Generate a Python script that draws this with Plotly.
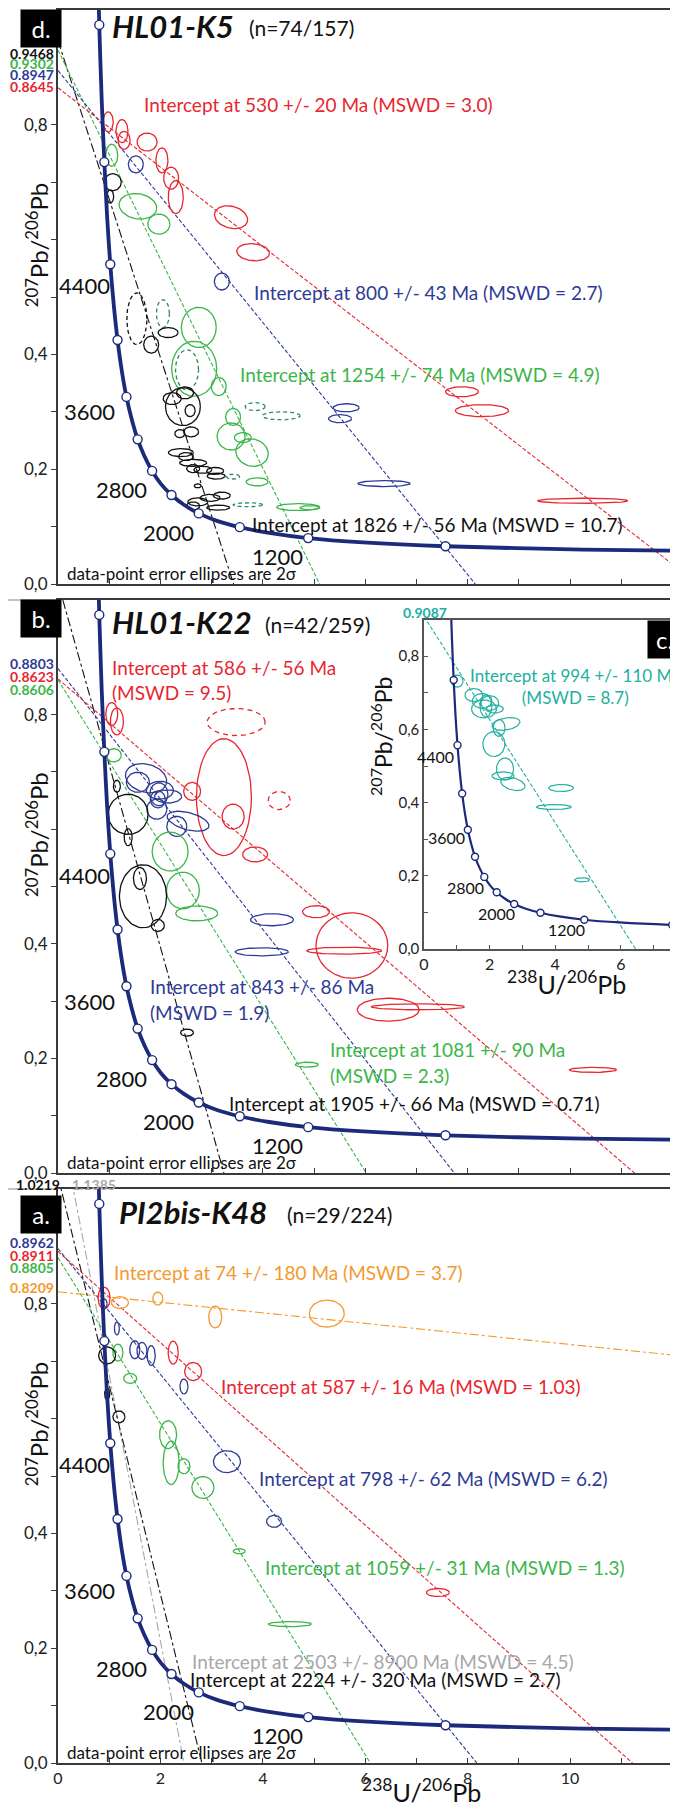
import numpy as np
import plotly.graph_objects as go

W, H = 678, 1805
OFF = 8  # page body margin: the figure starts 8 px in from the window corner

# ===============================
# Concordia curve (Tera-Wasserburg)
# ===============================
conc_x = [0.763, 0.806, 0.853, 0.905, 0.960, 1.021, 1.089, 1.163, 1.245, 1.337, 1.440,
          1.556, 1.687, 1.838, 2.013, 2.217, 2.459, 2.749, 3.105, 3.550, 4.123, 4.887,
          5.959, 7.568, 10.25, 12.6]
conc_y = [1.123, 0.974, 0.845, 0.735, 0.639, 0.557, 0.486, 0.425, 0.372, 0.326, 0.287,
          0.252, 0.223, 0.197, 0.174, 0.155, 0.138, 0.123, 0.110, 0.099, 0.089, 0.080,
          0.0725, 0.0658, 0.0599, 0.0575]
# open circles every 400 Ma (5200 ... 800 Ma)
mark_x = [0.806, 0.905, 1.021, 1.163, 1.337, 1.556, 1.838, 2.217, 2.749, 3.550, 4.887, 7.568]
mark_y = [0.974, 0.735, 0.557, 0.425, 0.326, 0.252, 0.197, 0.155, 0.123, 0.099, 0.080, 0.0658]

age_labels = ["4400", "3600", "2800", "2000", "1200"]
age_lab_x = [0.51, 0.62, 1.24, 2.15, 4.28]
age_lab_y = [0.52, 0.30, 0.165, 0.09, 0.048]
inset_age_x = [0.34, 0.70, 1.28, 2.20, 4.33]
inset_age_y = [0.527, 0.306, 0.169, 0.096, 0.052]

# ===============================
# Discordia: y-intercept (207Pb/206Pb) and x where the line reaches y = 0
# ===============================
d_disc_keys = ["black", "green", "blue", "red"]
d_disc_y0 = [0.9468, 0.9302, 0.8947, 0.8645]
d_disc_x0 = [3.43, 5.11, 8.15, 12.5]

b_disc_keys = ["black", "blue", "red", "green"]
b_disc_y0 = [1.03, 0.8803, 0.8623, 0.8606]
b_disc_x0 = [3.24, 7.74, 11.26, 6.02]

a_disc_keys = ["gray", "black", "blue", "red", "green", "orange"]
a_disc_y0 = [1.1385, 1.0219, 0.8962, 0.8911, 0.8805, 0.8209]
a_disc_x0 = [2.46, 2.81, 8.18, 11.22, 6.10, 89.5]

c_disc_keys = ["teal"]
c_disc_y0 = [0.9087]
c_disc_x0 = [6.45]

# ===============================
# Error ellipses: (x, y, half-width x, half-height y, tilt deg)
# ===============================
d_red = [(0.98, 0.805, 0.098, 0.0175, 0), (1.25, 0.789, 0.117, 0.020, 0), (1.29, 0.773, 0.117, 0.0157, 0),
         (1.74, 0.770, 0.195, 0.0157, 0), (2.03, 0.738, 0.117, 0.0218, 0), (2.21, 0.707, 0.146, 0.0192, 0),
         (2.30, 0.674, 0.146, 0.0288, 0), (3.38, 0.639, 0.33, 0.019, -15), (3.81, 0.578, 0.32, 0.0148, -5),
         (7.89, 0.335, 0.32, 0.0087, 0), (8.28, 0.302, 0.52, 0.0105, 0), (10.25, 0.145, 0.88, 0.0044, 0)]
d_blue = [(1.52, 0.731, 0.146, 0.0148, 0), (3.20, 0.527, 0.146, 0.0148, 0), (5.63, 0.307, 0.254, 0.007, 0),
          (5.51, 0.288, 0.225, 0.007, 0), (6.37, 0.175, 0.51, 0.0052, 0)]
d_green = [(1.05, 0.747, 0.117, 0.0192, 0), (1.56, 0.658, 0.37, 0.0218, -10), (1.97, 0.627, 0.215, 0.0175, 0),
           (2.75, 0.447, 0.34, 0.035, 0), (2.66, 0.375, 0.44, 0.048, 0), (3.14, 0.344, 0.146, 0.0157, 0),
           (3.42, 0.291, 0.146, 0.0148, 0), (3.38, 0.257, 0.273, 0.0236, 0), (3.61, 0.255, 0.166, 0.0087, 0),
           (3.79, 0.229, 0.32, 0.0236, -15), (3.89, 0.178, 0.215, 0.007, 0), (4.69, 0.134, 0.42, 0.0061, 0),
           (4.92, 0.133, 0.195, 0.0035, 0)]
d_green_dash = [(2.05, 0.471, 0.127, 0.0244, 0), (2.52, 0.373, 0.225, 0.035, 0), (3.85, 0.309, 0.195, 0.007, 0),
                (4.36, 0.293, 0.37, 0.007, 0), (3.42, 0.187, 0.127, 0.0044, 0), (3.71, 0.138, 0.29, 0.0035, 0)]
d_black = [(1.07, 0.700, 0.166, 0.0148, 0), (1.02, 0.675, 0.068, 0.0113, 0), (1.82, 0.417, 0.146, 0.0148, 0),
           (2.15, 0.438, 0.195, 0.0087, 0), (2.23, 0.323, 0.176, 0.0105, 0), (2.44, 0.309, 0.34, 0.033, 0),
           (2.48, 0.333, 0.166, 0.0105, 0), (2.58, 0.302, 0.098, 0.0105, 0), (2.38, 0.262, 0.098, 0.007, 0),
           (2.60, 0.265, 0.146, 0.0087, 0), (2.40, 0.229, 0.244, 0.007, 0), (2.50, 0.222, 0.146, 0.007, 0),
           (2.64, 0.211, 0.264, 0.0061, 0), (2.64, 0.201, 0.127, 0.007, 0), (2.83, 0.199, 0.176, 0.0061, 0),
           (3.07, 0.197, 0.166, 0.0061, 0), (3.09, 0.188, 0.176, 0.0052, 0), (2.73, 0.171, 0.068, 0.0035, 0),
           (2.73, 0.143, 0.195, 0.007, 0), (2.97, 0.150, 0.195, 0.0061, 0), (3.20, 0.154, 0.166, 0.0061, 0),
           (2.64, 0.136, 0.127, 0.007, 0), (3.13, 0.133, 0.225, 0.0044, 0)]
d_black_dash = [(1.54, 0.462, 0.195, 0.045, 0)]

b_red = [(1.05, 0.801, 0.117, 0.020, 0), (1.15, 0.788, 0.127, 0.0236, 0), (3.24, 0.656, 0.537, 0.102, 0),
         (2.62, 0.666, 0.166, 0.0157, 0), (3.42, 0.622, 0.215, 0.0218, 0), (3.85, 0.556, 0.244, 0.013, 0),
         (5.04, 0.456, 0.264, 0.0105, 0), (5.74, 0.397, 0.70, 0.057, 0), (5.59, 0.388, 0.73, 0.0061, 0),
         (6.45, 0.285, 0.605, 0.020, 0), (7.03, 0.290, 0.91, 0.0052, 0), (10.45, 0.180, 0.46, 0.0044, 0)]
b_red_dash = [(3.48, 0.787, 0.566, 0.0236, 0), (4.32, 0.650, 0.215, 0.0157, 0)]
b_blue = [(1.72, 0.689, 0.41, 0.0245, -15), (1.56, 0.682, 0.225, 0.0175, 0), (1.99, 0.668, 0.264, 0.0157, 0),
          (1.97, 0.661, 0.176, 0.020, 0), (1.95, 0.652, 0.146, 0.0148, 0), (2.15, 0.657, 0.264, 0.0114, 0),
          (1.93, 0.635, 0.195, 0.0175, 0), (2.54, 0.614, 0.42, 0.0149, -15), (2.32, 0.605, 0.195, 0.0175, 0),
          (4.18, 0.442, 0.42, 0.0105, 0), (3.98, 0.386, 0.52, 0.007, 0)]
b_green = [(1.09, 0.729, 0.146, 0.0114, 0), (2.19, 0.561, 0.35, 0.034, 0), (2.44, 0.493, 0.32, 0.032, 0),
           (2.71, 0.453, 0.41, 0.013, 0), (4.86, 0.189, 0.225, 0.0044, 0)]
b_black = [(1.15, 0.675, 0.068, 0.0105, 0), (1.37, 0.626, 0.39, 0.035, 0), (1.37, 0.586, 0.078, 0.0149, 0),
           (1.66, 0.483, 0.46, 0.055, 0), (1.60, 0.514, 0.127, 0.0192, 0), (1.95, 0.432, 0.127, 0.0105, 0),
           (2.52, 0.245, 0.127, 0.0061, 0)]

c_teal = [(1.01, 0.732, 0.18, 0.0164, 0), (1.52, 0.694, 0.27, 0.0178, 0), (1.77, 0.678, 0.30, 0.020, 0),
          (1.89, 0.664, 0.18, 0.030, 0), (1.83, 0.656, 0.38, 0.0246, 0), (2.01, 0.672, 0.27, 0.020, 0),
          (2.16, 0.656, 0.26, 0.011, 0), (2.50, 0.615, 0.43, 0.0164, 10), (2.29, 0.604, 0.18, 0.023, 0),
          (2.13, 0.560, 0.335, 0.034, 0), (2.47, 0.492, 0.26, 0.030, 0), (2.41, 0.473, 0.335, 0.011, 0),
          (2.71, 0.451, 0.38, 0.0164, -15), (4.18, 0.440, 0.38, 0.0096, 0), (3.96, 0.388, 0.53, 0.0068, 0),
          (4.82, 0.189, 0.23, 0.0055, 0)]

a_orange = [(1.21, 0.802, 0.166, 0.0104, 0), (1.95, 0.809, 0.098, 0.0113, 0), (3.07, 0.777, 0.127, 0.019, 0),
            (5.25, 0.783, 0.34, 0.0235, 0)]
a_red = [(0.90, 0.810, 0.117, 0.019, 0), (2.25, 0.715, 0.098, 0.020, 0), (2.64, 0.682, 0.166, 0.0157, 0),
         (7.42, 0.297, 0.225, 0.007, 0)]
a_blue = [(0.90, 0.800, 0.059, 0.0087, 0), (1.15, 0.757, 0.049, 0.0113, 0), (1.50, 0.720, 0.098, 0.0157, 0),
          (1.64, 0.718, 0.098, 0.0148, 0), (1.82, 0.710, 0.078, 0.0174, 0), (2.46, 0.656, 0.078, 0.013, 0),
          (3.30, 0.525, 0.264, 0.019, 0), (4.22, 0.421, 0.146, 0.0104, 0)]
a_green = [(1.17, 0.715, 0.098, 0.0148, 0), (1.41, 0.670, 0.127, 0.0087, 0), (2.15, 0.572, 0.166, 0.0243, 0),
           (2.21, 0.523, 0.156, 0.038, 0), (2.46, 0.517, 0.117, 0.013, 0), (2.83, 0.480, 0.215, 0.019, 0),
           (3.54, 0.369, 0.117, 0.0044, 0), (4.53, 0.242, 0.42, 0.0044, 0)]
a_black = [(0.96, 0.710, 0.166, 0.0148, 0), (0.96, 0.643, 0.049, 0.0104, 0), (1.19, 0.603, 0.117, 0.0104, 0)]

# ===============================
# Styles
# ===============================
COL = {"red": "#e8262f", "blue": "#2e3b96", "green": "#3cb54a", "black": "#111111",
       "orange": "#f39a2e", "gray": "#a8a8a8", "teal": "#22b0a0", "dkgreen": "#2f8a5c"}
DASH = {"red": "4px,2px", "blue": "4px,2px", "green": "4px,2px", "black": "dashdot",
        "orange": "dashdot", "gray": "dashdot", "teal": "4px,2px"}
NAVY = "#1b2a7b"
FONT = "Lato"
AX = "#3a3a3a"
FW, FH = W - OFF, H - OFF


def px2paper_x(px):
    return (px - OFF) / FW


def px2paper_y(py):
    return 1 - (py - OFF) / FH


# panel geometry (pixels in the window)
LEFT = 58
XMAX = (W - LEFT) / 51.2
panels = {  # name: (top px, bottom px)
    "d": (10, 584),
    "b": (600, 1173),
    "a": (1189, 1763),
}
axis_ids = {"d": ("x", "y"), "b": ("x2", "y2"), "a": ("x3", "y3"), "c": ("x4", "y4")}
inset = dict(left=424, right=678, top=620, bottom=949, xmax=(678 - 424) / 32.8, ymax=0.899)

fig = go.Figure()


def scales(name):
    if name == "c":
        kx = (inset["right"] - inset["left"]) / inset["xmax"]
        ky = (inset["bottom"] - inset["top"]) / inset["ymax"]
    else:
        kx = (W - LEFT) / XMAX
        top, bot = panels[name]
        ky = (bot - top) / 1.0
    return kx, ky


def add_ellipses(name, ells, color, dash="solid", width=1.3):
    xr, yr = axis_ids[name]
    kx, ky = scales(name)
    xs, ys = [], []
    t = np.linspace(0, 2 * np.pi, 72)
    for cx, cy, rx, ry, ang in ells:
        u = rx * kx * np.cos(t)
        v = ry * ky * np.sin(t)
        a = np.deg2rad(ang)
        uu = u * np.cos(a) - v * np.sin(a)
        vv = u * np.sin(a) + v * np.cos(a)
        xs += list(cx + uu / kx) + [None]
        ys += list(cy + vv / ky) + [None]
    fig.add_trace(go.Scatter(x=xs, y=ys, mode="lines", xaxis=xr, yaxis=yr,
                             line=dict(color=color, width=width, dash=dash),
                             hoverinfo="skip", showlegend=False))


def add_discordia(name, keys, y0s, x0s):
    xr, yr = axis_ids[name]
    for k, y0, x0 in zip(keys, y0s, x0s):
        fig.add_trace(go.Scatter(x=[0, x0], y=[y0, 0], mode="lines", xaxis=xr, yaxis=yr,
                                 line=dict(color=COL[k], width=1.1, dash=DASH[k]),
                                 hoverinfo="skip", showlegend=False))


def add_concordia(name, lw=3.8, ms=9):
    xr, yr = axis_ids[name]
    fig.add_trace(go.Scatter(x=conc_x, y=conc_y, mode="lines", xaxis=xr, yaxis=yr,
                             line=dict(color=NAVY, width=lw, shape="spline", smoothing=0.8),
                             hoverinfo="skip", showlegend=False))
    fig.add_trace(go.Scatter(x=mark_x, y=mark_y, mode="markers", xaxis=xr, yaxis=yr,
                             marker=dict(size=ms, color="white", line=dict(color=NAVY, width=1.4)),
                             hoverinfo="skip", showlegend=False, cliponaxis=True))


# ---- panel d ----
add_discordia("d", d_disc_keys, d_disc_y0, d_disc_x0)
add_ellipses("d", d_red, COL["red"])
add_ellipses("d", d_blue, COL["blue"])
add_ellipses("d", d_green, COL["green"])
add_ellipses("d", d_green_dash, COL["dkgreen"], dash="4px,3px")
add_ellipses("d", d_black, COL["black"])
add_ellipses("d", d_black_dash, COL["black"], dash="4px,3px")
add_concordia("d")

# ---- panel b ----
add_discordia("b", b_disc_keys, b_disc_y0, b_disc_x0)
add_ellipses("b", b_red, COL["red"])
add_ellipses("b", b_red_dash, COL["red"], dash="5px,4px")
add_ellipses("b", b_blue, COL["blue"])
add_ellipses("b", b_green, COL["green"])
add_ellipses("b", b_black, COL["black"])
add_concordia("b")

# ---- panel a ----
add_discordia("a", a_disc_keys, a_disc_y0, a_disc_x0)
add_ellipses("a", a_orange, COL["orange"])
add_ellipses("a", a_red, COL["red"])
add_ellipses("a", a_blue, COL["blue"])
add_ellipses("a", a_green, COL["green"])
add_ellipses("a", a_black, COL["black"])
add_concordia("a")

# ---- inset c ----
add_discordia("c", c_disc_keys, c_disc_y0, c_disc_x0)
add_ellipses("c", c_teal, COL["teal"], width=1.2)
add_concordia("c", lw=2.2, ms=7)

# ===============================
# Axes
# ===============================
layout_axes = {}
xt_vals = list(range(0, 13))
for i, name in enumerate(["d", "b", "a"]):
    top, bot = panels[name]
    sx = "" if i == 0 else str(i + 1)
    show_lab = name == "a"
    layout_axes["xaxis" + sx] = dict(
        domain=[px2paper_x(LEFT), 1], range=[0, XMAX], anchor="y" + sx,
        showline=True, linecolor=AX, linewidth=2, mirror=True,
        ticks="inside", ticklen=5, tickwidth=1.3, tickcolor=AX,
        tickvals=xt_vals,
        ticktext=[str(v) if (show_lab and v % 2 == 0) else "" for v in xt_vals],
        tickfont=dict(family=FONT, size=16, color="#222"),
        showgrid=False, zeroline=False, automargin=False)
    yt = [round(0.1 * k, 1) for k in range(0, 9)]
    lab = {0.0: "0,0", 0.2: "0,2", 0.4: "0,4", 0.8: "0,8"}
    layout_axes["yaxis" + sx] = dict(
        domain=[px2paper_y(bot), px2paper_y(top)], range=[0, 1.0], anchor="x" + sx,
        showline=True, linecolor=AX, linewidth=2, mirror=False,
        ticks="outside", ticklen=5, tickwidth=1.3, tickcolor=AX,
        tickvals=yt, ticktext=[lab.get(v, "") for v in yt],
        tickfont=dict(family=FONT, size=17, color="#222"),
        showgrid=False, zeroline=False, automargin=False)

ct_x = list(range(0, 8))
ct_y = [round(0.1 * k, 1) for k in range(0, 9)]
layout_axes["xaxis4"] = dict(
    domain=[px2paper_x(inset["left"]), px2paper_x(inset["right"])], range=[0, inset["xmax"]],
    anchor="y4", showline=True, linecolor="#555", linewidth=1.5, mirror=True,
    ticks="inside", ticklen=4, tickcolor="#555",
    tickvals=ct_x, ticktext=[str(v) if v % 2 == 0 else "" for v in ct_x],
    tickfont=dict(family=FONT, size=16, color="#222"),
    showgrid=False, zeroline=False, automargin=False)
layout_axes["yaxis4"] = dict(
    domain=[px2paper_y(inset["bottom"]), px2paper_y(inset["top"])], range=[0, inset["ymax"]],
    anchor="x4", showline=True, linecolor="#555", linewidth=1.5,
    ticks="inside", ticklen=4, tickcolor="#555",
    tickvals=ct_y, ticktext=[("0," + str(int(round(v * 10)))) if int(round(v * 10)) % 2 == 0 else "" for v in ct_y],
    tickfont=dict(family=FONT, size=15, color="#222"),
    showgrid=False, zeroline=False, automargin=False)

# ===============================
# Texts
# ===============================
ann = []


def txt(x, y, s, color="#111", size=19, xref="paper", yref="paper", xanchor="left",
        yanchor="middle", **kw):
    ann.append(dict(x=x, y=y, text=s, xref=xref, yref=yref, xanchor=xanchor, yanchor=yanchor,
                    showarrow=False, font=dict(family=FONT, size=size, color=color), **kw))


# age labels on concordia
for name in ["d", "b", "a"]:
    xr, yr = axis_ids[name]
    for s, x, y in zip(age_labels, age_lab_x, age_lab_y):
        txt(x, y, s, size=22, xref=xr, yref=yr, xanchor="center")
    txt(0.14, 0.018, "data-point error ellipses are 2σ", size=17, xref=xr, yref=yr)
    txt(px2paper_x(37), 0.59, "<sup>207</sup>Pb/<sup>206</sup>Pb", size=24, xref="paper", yref=yr,
        xanchor="center", textangle=-90)
for s, x, y in zip(age_labels, inset_age_x, inset_age_y):
    txt(x, y, s, size=16, xref="x4", yref="y4", xanchor="center")

# panel tags
for tag, (x0, y0) in {"d.": (20, 9), "b.": (20, 599), "a.": (20, 1195), "c.": (647, 620)}.items():
    w = 31 if tag == "c." else 38
    ann.append(dict(x=px2paper_x(x0), y=px2paper_y(y0), xref="paper", yref="paper",
                    xanchor="left", yanchor="top", text=tag, showarrow=False,
                    bgcolor="black", width=w, height=35, align="center", valign="middle",
                    font=dict(family=FONT, size=24, color="white")))

# sample names
for name_txt, n_txt, (x0, x1, yc) in [("HL01-K5", "(n=74/157)", (110, 247, 26)),
                                      ("HL01-K22", "(n=42/259)", (110, 263, 622)),
                                      ("PI2bis-K48", "(n=29/224)", (117, 285, 1212))]:
    txt(px2paper_x(x0), px2paper_y(yc), "<b><i>" + name_txt + "</i></b>", size=31)
    txt(px2paper_x(x1), px2paper_y(yc + 2), n_txt, size=21)

# intercept labels
txt(1.64, 0.836, "Intercept at 530 +/- 20 Ma (MSWD = 3.0)", COL["red"], xref="x", yref="y")
txt(3.79, 0.508, "Intercept at 800 +/- 43 Ma (MSWD = 2.7)", COL["blue"], xref="x", yref="y")
txt(3.52, 0.365, "Intercept at 1254 +/- 74 Ma (MSWD = 4.9)", COL["green"], xref="x", yref="y")
txt(3.75, 0.103, "Intercept at 1826 +/- 56 Ma (MSWD = 10.7)", COL["black"], xref="x", yref="y")

txt(1.02, 0.883, "Intercept at 586 +/- 56 Ma", COL["red"], xref="x2", yref="y2")
txt(1.02, 0.839, "(MSWD = 9.5)", COL["red"], xref="x2", yref="y2")
txt(1.76, 0.325, "Intercept at 843 +/- 86 Ma", COL["blue"], xref="x2", yref="y2")
txt(1.76, 0.280, "(MSWD = 1.9)", COL["blue"], xref="x2", yref="y2")
txt(5.27, 0.215, "Intercept at 1081 +/- 90 Ma", COL["green"], xref="x2", yref="y2")
txt(5.27, 0.171, "(MSWD = 2.3)", COL["green"], xref="x2", yref="y2")
txt(3.30, 0.122, "Intercept at 1905 +/- 66 Ma (MSWD = 0.71)", COL["black"], xref="x2", yref="y2")

txt(1.05, 0.854, "Intercept at 74 +/- 180 Ma (MSWD = 3.7)", COL["orange"], xref="x3", yref="y3")
txt(3.15, 0.656, "Intercept at 587 +/- 16 Ma (MSWD = 1.03)", COL["red"], xref="x3", yref="y3")
txt(3.88, 0.496, "Intercept at 798 +/- 62 Ma (MSWD = 6.2)", COL["blue"], xref="x3", yref="y3")
txt(4.00, 0.341, "Intercept at 1059 +/- 31 Ma (MSWD = 1.3)", COL["green"], xref="x3", yref="y3")
txt(2.58, 0.177, "Intercept at 2503 +/- 8900 Ma (MSWD = 4.5)", COL["gray"], xref="x3", yref="y3")
txt(2.54, 0.146, "Intercept at 2224 +/- 320 Ma (MSWD = 2.7)", COL["black"], xref="x3", yref="y3")

txt(px2paper_x(575), px2paper_y(686), "Intercept at 994 +/- 110 Ma<br>(MSWD = 8.7)", COL["teal"],
    size=17, xanchor="center", align="center")

# y-intercept values at the left axis
for s, key, y, yr in [("0.9468", "black", 0.925, "y"), ("0.9302", "green", 0.906, "y"),
                      ("0.8947", "blue", 0.887, "y"), ("0.8645", "red", 0.866, "y"),
                      ("0.8803", "blue", 0.890, "y2"), ("0.8623", "red", 0.866, "y2"),
                      ("0.8606", "green", 0.843, "y2"),
                      ("0.8962", "blue", 0.906, "y3"), ("0.8911", "red", 0.885, "y3"),
                      ("0.8805", "green", 0.864, "y3"), ("0.8209", "orange", 0.828, "y3")]:
    txt(px2paper_x(56), y, "<b>" + s + "</b>", COL[key], size=14, yref=yr, xanchor="right")
txt(px2paper_x(38), px2paper_y(1184), "<b>1.0219</b>", COL["black"], size=14, xanchor="center")
txt(px2paper_x(94), px2paper_y(1184), "<b>1.1385</b>", COL["gray"], size=14, xanchor="center")
txt(px2paper_x(425), px2paper_y(612), "<b>0.9087</b>", COL["teal"], size=14, xanchor="center")

# axis titles
txt(px2paper_x(421), px2paper_y(1790), "<sup>238</sup>U/<sup>206</sup>Pb", size=25, xanchor="center")
txt(px2paper_x(566), px2paper_y(982), "<sup>238</sup>U/<sup>206</sup>Pb", size=25, xanchor="center")
txt(px2paper_x(382), px2paper_y(737), "<sup>207</sup>Pb/<sup>206</sup>Pb", size=23, xanchor="center",
    textangle=-90)

# separating lines at the left of panel tops
shapes = []
for ytop in [600, 1189]:
    shapes.append(dict(type="line", xref="paper", yref="paper", x0=0, x1=px2paper_x(LEFT),
                       y0=px2paper_y(ytop), y1=px2paper_y(ytop), line=dict(color=AX, width=2)))

fig.update_layout(
    width=FW, height=FH, margin=dict(l=0, r=0, t=0, b=0),
    paper_bgcolor="white", plot_bgcolor="white", template="simple_white",
    showlegend=False, annotations=ann, shapes=shapes, **layout_axes)

fig.write_html("out.html")
